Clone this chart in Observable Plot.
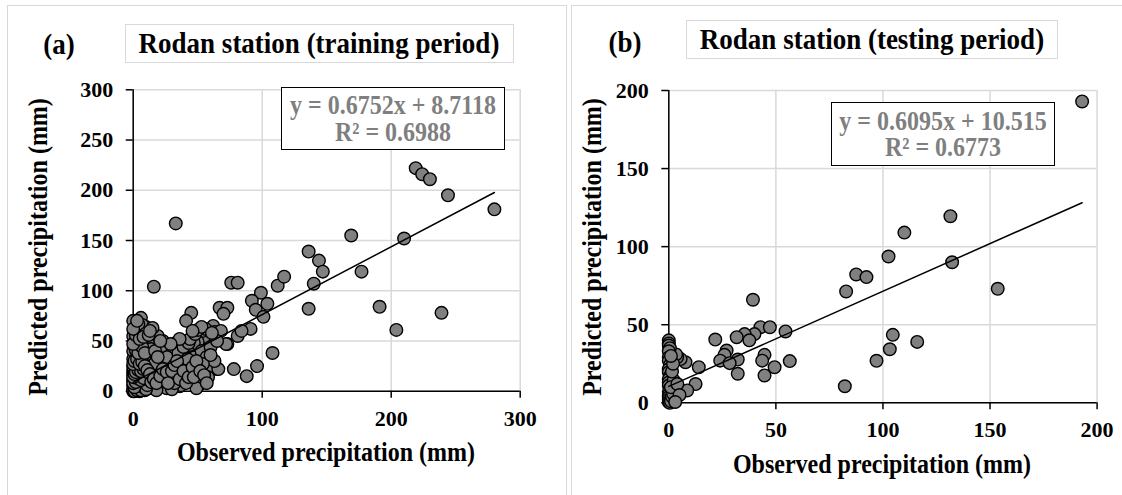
<!DOCTYPE html>
<html>
<head>
<meta charset="utf-8">
<script src="https://cdn.jsdelivr.net/npm/d3@7"></script>
<script src="https://cdn.jsdelivr.net/npm/@observablehq/plot@0.6"></script>
<style>
  html, body { margin: 0; padding: 0; background: #fff; }
  #root { position: relative; width: 1122px; height: 495px; overflow: hidden; background: #fff;
          font-family: "Liberation Serif", "Times New Roman", serif; font-weight: bold; color: #000; }
  .frame { position: absolute; border: 1.5px solid #d9d9d9; box-sizing: border-box; }
  .titlebox { position: absolute; border: 1.5px solid #d9d9d9; box-sizing: border-box;
              display: flex; align-items: center; justify-content: center; font-size: 27px; white-space: nowrap; background: #fff; }
  .titlebox span { display: inline-block; transform: scaleY(1.1); }
  .eqbox { position: absolute; border: 1.5px solid #000; box-sizing: border-box; background: #fff;
           color: #7f7f7f; font-size: 24px; line-height: 26.5px; text-align: center; white-space: nowrap;
           display: flex; flex-direction: column; justify-content: center; }
  .eqbox div { transform: scaleY(1.1); }
  .plabel { position: absolute; font-size: 27px; white-space: nowrap; transform: translate(-50%, -50%) scaleY(1.08); }
  .xtitle { position: absolute; font-size: 24px; white-space: nowrap; transform: translate(-50%, -50%) scaleY(1.1); }
  .ytitle { position: absolute; font-size: 24px; white-space: nowrap; transform: translate(-50%, -50%) rotate(-90deg) scaleY(1.1); }
  svg { position: absolute; top: 0; }
</style>
</head>
<body>
<div id="root">
  <div class="frame" style="left:7px; top:5px; width:560px; height:520px;"></div>
  <div class="frame" style="left:571px; top:5px; width:600px; height:520px;"></div>
</div>
<script>
// ---------------- data ----------------
const panelLabels = ["(a)", "(b)"];
const panelTitles = ["Rodan station (training period)", "Rodan station (testing period)"];
const xTitle = "Observed precipitation (mm)";
const yTitle = "Predicted precipitation (mm)";

const ticksA = [0, 50, 100, 150, 200, 250, 300];
const xTicksA = [0, 100, 200, 300];
const ticksB = [0, 50, 100, 150, 200];

const slopeA = 0.6752, interceptA = 8.7118, r2A = "0.6988";
const slopeB = 0.6095, interceptB = 10.515, r2B = "0.6773";
const eqA = "y = 0.6752x + 8.7118";
const eqB = "y = 0.6095x + 10.515";

// training period: [observed, predicted]
const trainingPairs = [
  [219,222],[224,216],[230,211],[244,195],[280,181],[169,155],[210,152],[136,139],[144,130],[147,119],
  [140,107],[177,119],[136,82],[191,84],[204,61],[239,78],[33,167],[16,104],
  [76,108],[81,108],[112,105],[117,114],[99,98],[92,90],[104,87],[95,81],[101,74],[67,83],[73,83],[70,77],
  [91,62],[81,55],[84,60],[62,65],[73,47],[108,38],[96,25],[88,15],[78,22],[65,22],[55,54],[63,59],[45,78],
  [41,70],[54,60],[56,62],[50,49],[47,48],[51,29],[33,48],[38,30],[44,20],[36,5],
  [6,73],[5,57],[2,62],[10,64],[15,57],[4,44],[20,40],[11,40],[0,32],[6,24],[12,29],[21,32],[28,24],
  [38,29],[43,26],[45,19],[59,21],[66,22],[52,11],[37,6],[25,16],[20,11],[15,6],[7,4],[0,11],[2,1],
  [0,20],[17,20],[10,16],[30,12],[20,26],[10,52],[72,47],[9,42],[22,42],[23,30],[24,27],[19,16],[28,14],
  [51,6],[50,11],[28,4],
  [0,0],[1,2],[2,5],[3,8],[1,14],[0,17],[4,2],[5,10],[3,22],[1,27],[2,35],[0,40],[1,45],[3,50],[6,36],
  [8,30],[7,18],[9,8],[12,3],[13,12],[14,24],[16,34],[18,46],[11,50],[8,60],[13,36],[22,6],[26,3],[24,20],
  [29,36],[31,30],[27,42],[34,18],[40,12],[42,40],[46,34],[48,8],[53,40],[57,34],[60,44],[63,30],[68,60],
  [58,14],[49,3],[30,2],[18,1],[9,1],[5,0],[3,3],[2,28],[4,30],[6,48],[1,52],[7,66],[12,45],[16,48],
  [23,50],[26,34],[35,38],[39,44],[43,48],[44,52],[48,57],[50,61],[53,64],[35,22],[32,8],[40,26],[19,55],
  [22,45],[0,5],[1,8],[2,12],[4,16],[0,24],[3,38],[5,42],[0,55],[14,42],[9,34],[17,28],[25,10],[33,16],
  [42,32],[54,27],[60,36],[65,50],[36,52],[46,60],[61,58],[29,47],[15,63],[4,67],[0,70],
  [0,1],[1,0],[2,3],[3,1],[4,5],[5,3],[6,1],[7,7],[8,4],[10,2],[11,6],[1,4],[0,8],[2,9],[3,13],[5,14],
  [6,11],[8,13],[0,14],[1,17],[2,19],[4,21],[6,20],[8,22],[0,27],[1,30],[3,32],[5,27],[7,29],[9,25],
  [11,21],[13,17],[14,9],[16,12],[18,8],[21,15],[23,22],[26,19],[27,8],[30,20],[32,26],[34,30],[36,12],
  [39,20],[41,8],[43,14],[46,24],[47,14],[49,30],[52,20],[55,16],[57,8],[2,41],[4,38],[7,44],[9,38],
  [0,47],[2,56],[5,52],[8,54],[12,56],[0,62],[3,70],[13,60],[17,40],[19,34],[21,50]
];

// testing period: [observed, predicted]
const testingPairs = [
  [193,193],[131.5,119.5],[110,109],[102.6,93.7],[132.3,90],[87.5,82.2],[92.3,80.5],[82.8,71.3],[153.6,73],
  [39.3,66],[42.8,48.4],[47.2,48.4],[54.5,45.7],[40,44],[35.4,44],[31.7,42],[37.6,40],[21.7,40.5],
  [104.6,43.5],[116,39],[103.2,34.3],[97,26.9],[82.2,10.6],[56.5,26.7],[49.4,22.8],[44.7,30.7],[43.6,27],
  [44.7,17.5],[27,33.5],[26,30.7],[32.2,27.7],[24,27],[28.4,25.4],[14,22.8],[32.2,18.6],[12.5,12],[8.6,7.9],
  [7.8,26],[5.5,28],[3.9,29.2],[3.4,31],
  [0,40],[0,38],[0,36.7],[0.5,35],[0,33],[0,29],[0,27],[0.5,24],[0,21.5],[0,19.6],[0.5,17],[0,15],[0,13],
  [0,11],[0.5,9],[0,7],[0,5],[0,3.6],[0,2],[0,0.5],[0.5,0],[1,1],[1.5,4],[2.3,14.3],[2.3,9],[3.1,2.6],
  [2,6],[1,10],[1.5,20],[2,25],[1,30],[4,12],[5,5],[3,0.5]
];

// ---------------- drawing ----------------
const root = document.getElementById("root");
const FONT = '"Liberation Serif", "Times New Roman", serif';

function panel(pairs, slope, intercept, yTicks, xTicks, domainMax, m, left) {
  const pts = pairs.map(([o, p]) => ({obs: o, pred: p}));
  const xMax = d3.max(pts, d => d.obs), xMin = d3.min(pts, d => d.obs);
  const trend = [xMin, xMax].map(x => ({obs: x, pred: slope * x + intercept}));
  const svg = Plot.plot({
    width: 561, height: 495,
    marginLeft: m.l, marginRight: m.r, marginTop: m.t, marginBottom: m.b,
    x: {domain: [0, domainMax], label: null},
    y: {domain: [0, domainMax], label: null},
    style: {fontFamily: FONT, fontSize: "22px", fontWeight: "bold", color: "#000", background: "transparent", overflow: "visible"},
    marks: [
      Plot.gridX(xTicks, {stroke: "#d9d9d9", strokeOpacity: 1, strokeWidth: 1.5}),
      Plot.gridY(yTicks, {stroke: "#d9d9d9", strokeOpacity: 1, strokeWidth: 1.5}),
      Plot.axisX(xTicks, {tickSize: 7, tickPadding: 12, fontSize: 22, fontWeight: "bold", strokeWidth: 1.5, label: null}),
      Plot.axisY(yTicks, {tickSize: 7, tickPadding: 13, fontSize: 22, fontWeight: "bold", strokeWidth: 1.5, label: null}),
      Plot.ruleX([0], {stroke: "#000", strokeWidth: 1.5}),
      Plot.ruleY([0], {stroke: "#000", strokeWidth: 1.5}),
      Plot.dot(pts, {x: "obs", y: "pred", r: 6.3, fill: "#808080", stroke: "#000", strokeWidth: 1.4}),
      Plot.line(trend, {x: "obs", y: "pred", stroke: "#000", strokeWidth: 1.5})
    ]
  });
  svg.style.left = left + "px";
  root.appendChild(svg);
}

panel(trainingPairs, slopeA, interceptA, ticksA, xTicksA, 300, {l: 132.7, r: 41.3, t: 89.3, b: 104.3}, 0);
panel(testingPairs, slopeB, interceptB, ticksB, ticksB, 200, {l: 107.3, r: 25.4, t: 90, b: 92.7}, 561);

function addDiv(cls, style, html) {
  const d = document.createElement("div");
  d.className = cls;
  Object.assign(d.style, style);
  d.innerHTML = html;
  root.appendChild(d);
  return d;
}

// Panel (a) annotations
addDiv("plabel", {left: "59px", top: "45px"}, panelLabels[0]);
addDiv("titlebox", {left: "124.5px", top: "24px", width: "389px", height: "39px"}, `<span>${panelTitles[0]}</span>`);
addDiv("eqbox", {left: "281px", top: "87px", width: "224px", height: "63px"}, `<div>${eqA}</div><div>R² = ${r2A}</div>`);
addDiv("xtitle", {left: "326px", top: "453px"}, xTitle);
addDiv("ytitle", {left: "39px", top: "247px"}, yTitle);

// Panel (b) annotations
addDiv("plabel", {left: "625px", top: "43px"}, panelLabels[1]);
addDiv("titlebox", {left: "686px", top: "20px", width: "372px", height: "39px"}, `<span>${panelTitles[1]}</span>`);
addDiv("eqbox", {left: "831px", top: "102px", width: "224px", height: "64px"}, `<div>${eqB}</div><div>R² = ${r2B}</div>`);
addDiv("xtitle", {left: "882px", top: "465px"}, xTitle);
addDiv("ytitle", {left: "593px", top: "247px"}, yTitle);
</script>
</body>
</html>
